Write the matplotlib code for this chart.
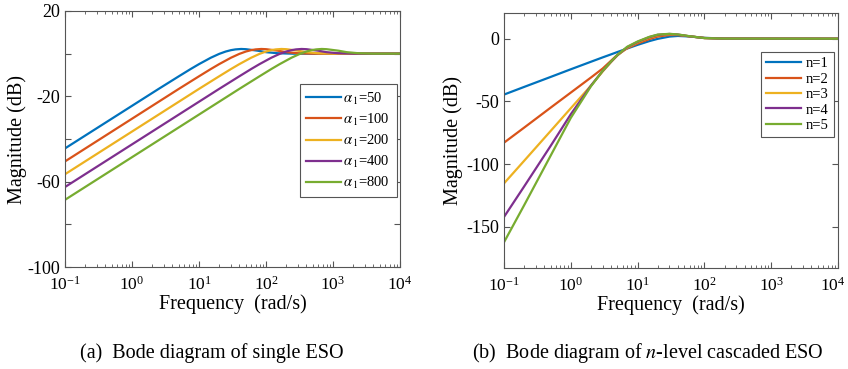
import matplotlib
matplotlib.use("Agg")
import matplotlib.pyplot as plt
import matplotlib.transforms as mtrans
from matplotlib.ticker import LogLocator, NullFormatter

plt.rcParams["font.family"] = ["Liberation Serif", "DejaVu Serif"]
plt.rcParams["mathtext.fontset"] = "stix"
plt.rcParams["axes.unicode_minus"] = False

colors = ["#0072BD", "#D95319", "#EDB120", "#7E2F8E", "#77AC30"]

# (a) single ESO
alpha_labels = ["50", "100", "200", "400", "800"]
freq_a50 = [0.1, 2.5, 5, 7.5, 10, 15, 20, 25, 30, 35, 42.5, 50, 75, 100, 150, 250, 500, 10000]
freq_a100 = [0.1, 5, 10, 15, 20, 30, 40, 50, 60, 70, 85, 100, 150, 200, 300, 500, 1000, 10000]
freq_a200 = [0.1, 10, 20, 30, 40, 60, 80, 100, 120, 140, 170, 200, 300, 400, 600, 1000, 2000, 10000]
freq_a400 = [0.1, 20, 40, 60, 80, 120, 160, 200, 240, 280, 340, 400, 600, 800, 1200, 2000, 4000, 10000]
freq_a800 = [0.1, 40, 80, 120, 160, 240, 320, 400, 480, 560, 680, 800, 1200, 1600, 2400, 4000, 8000, 10000]
mag_a50 = [-44.4, -16.5, -10.6, -7.2, -4.9, -1.9, -0.1, 1.0, 1.65, 2.0, 2.2, 2.1, 1.4, 0.7, 0.2, 0.0, 0.0, 0.0]
mag_a100 = [-50.5, -16.5, -10.6, -7.2, -4.9, -1.9, -0.1, 1.0, 1.65, 2.0, 2.2, 2.1, 1.4, 0.7, 0.2, 0.0, 0.0, 0.0]
mag_a200 = [-56.5, -16.5, -10.6, -7.2, -4.9, -1.9, -0.1, 1.0, 1.65, 2.0, 2.2, 2.1, 1.4, 0.7, 0.2, 0.0, 0.0, 0.0]
mag_a400 = [-62.5, -16.5, -10.6, -7.2, -4.9, -1.9, -0.1, 1.0, 1.65, 2.0, 2.2, 2.1, 1.4, 0.7, 0.2, 0.0, 0.0, 0.0]
mag_a800 = [-68.5, -16.5, -10.6, -7.2, -4.9, -1.9, -0.1, 1.0, 1.65, 2.0, 2.2, 2.1, 1.4, 0.7, 0.2, 0.0, 0.0, 0.0]

# (b) n-level cascaded ESO
n_labels = ["n=1", "n=2", "n=3", "n=4", "n=5"]
freq_b = [0.1, 0.2, 0.5, 1, 2, 3, 4, 5, 7, 10, 15, 20, 30, 40, 60, 100, 200, 10000]
mag_n1 = [-44.6, -38.5, -30.5, -24.4, -18.4, -14.9, -12.5, -10.6, -7.8, -4.9, -1.9, -0.1, 1.7, 2.2, 1.8, 0.7, 0.1, 0.0]
mag_n2 = [-83.0, -71.0, -55.0, -43.0, -31.0, -23.8, -17.6, -12.8, -7.6, -3.8, -0.3, 1.7, 3.0, 2.9, 1.9, 0.6, 0.1, 0.0]
mag_n3 = [-115.5, -97.5, -73.6, -55.5, -37.5, -26.2, -18.7, -13.3, -7.1, -2.9, 0.9, 2.7, 3.6, 3.2, 1.9, 0.5, 0.1, 0.0]
mag_n4 = [-142.3, -118.0, -85.5, -60.3, -37.5, -25.7, -18.4, -13.1, -6.7, -2.5, 1.3, 3.1, 3.8, 3.3, 1.9, 0.5, 0.1, 0.0]
mag_n5 = [-162.5, -133.0, -93.3, -63.2, -38.0, -25.6, -18.2, -12.9, -6.4, -2.2, 1.5, 3.3, 3.9, 3.4, 2.0, 0.5, 0.1, 0.0]

yticks_a = [-100, -80, -60, -40, -20, 0, 20]
yticklabels_a = ["-100", "", "-60", "", "-20", "", "20"]
yticks_b = [-150, -100, -50, 0]
xticks = [0.1, 1, 10, 100, 1000, 10000]

fig = plt.figure(figsize=(8.48, 3.69), dpi=100)
ax1 = fig.add_axes([0.0767, 0.2764, 0.395, 0.6938])
ax2 = fig.add_axes([0.5943, 0.2737, 0.394, 0.691])

freqs_a = [freq_a50, freq_a100, freq_a200, freq_a400, freq_a800]
mags_a = [mag_a50, mag_a100, mag_a200, mag_a400, mag_a800]
for f, m, lab, c in zip(freqs_a, mags_a, alpha_labels, colors):
    ax1.semilogx(f, m, color=c, lw=1.6, label=r"$\alpha_{\,1}$=" + lab)

mags_b = [mag_n1, mag_n2, mag_n3, mag_n4, mag_n5]
for m, lab, c in zip(mags_b, n_labels, colors):
    ax2.semilogx(freq_b, m, color=c, lw=1.6, label=lab)

for ax in (ax1, ax2):
    ax.set_xlim(0.1, 1e4)
    ax.set_xticks(xticks)
    ax.xaxis.set_minor_locator(LogLocator(base=10, subs=range(2, 10), numticks=20))
    ax.xaxis.set_minor_formatter(NullFormatter())
    ax.tick_params(which="both", direction="in", top=True, right=True,
                   labelsize=13, color="#555555")
    ax.tick_params(which="major", length=4)
    ax.tick_params(which="minor", length=2)
    ax.tick_params(axis="x", which="both", pad=6, labelsize=12.5)
    for s in ax.spines.values():
        s.set_color("#555555")
        s.set_linewidth(0.8)
    ax.set_xlabel("Frequency  (rad/s)", fontsize=14.5)
    ax.set_ylabel("Magnitude (dB)", fontsize=14.5)

ax1.xaxis.set_label_coords(0.5, -0.108)
ax2.xaxis.set_label_coords(0.5, -0.105)
ax1.yaxis.set_label_coords(-0.113, 0.5)
ax2.yaxis.set_label_coords(-0.123, 0.5)

ax1.set_ylim(-100, 20)
ax1.set_yticks(yticks_a)
ax1.set_yticklabels(yticklabels_a)
ax2.set_ylim(-183, 20.5)
ax2.set_yticks(yticks_b)

# keep the 10^4 label of the right panel inside the figure
last = ax2.xaxis.get_major_ticks()[-1].label1
last.set_transform(last.get_transform() + mtrans.ScaledTranslation(-4 / 72, 0, fig.dpi_scale_trans))

leg1 = ax1.legend(loc="upper right", bbox_to_anchor=(0.99, 0.715), fontsize=10.5,
                  fancybox=False, framealpha=1, edgecolor="#555555", borderaxespad=0,
                  handlelength=2.4, labelspacing=0.34, borderpad=0.45, handletextpad=0.15)
leg1.get_frame().set_linewidth(0.8)
leg2 = ax2.legend(loc="upper right", bbox_to_anchor=(0.988, 0.847), fontsize=10.5,
                  fancybox=False, framealpha=1, edgecolor="#555555", borderaxespad=0,
                  handlelength=2.4, labelspacing=0.15, borderpad=0.35, handletextpad=0.35)
leg2.get_frame().set_linewidth(0.8)

fig.text(0.25, 0.043, "(a)  Bode diagram of single ESO", ha="center", va="center", fontsize=14.5)
fig.text(0.764, 0.043, r"(b)  Bode diagram of $n$-level cascaded ESO", ha="center", va="center", fontsize=14.5)

fig.savefig("out.png", dpi=100)
